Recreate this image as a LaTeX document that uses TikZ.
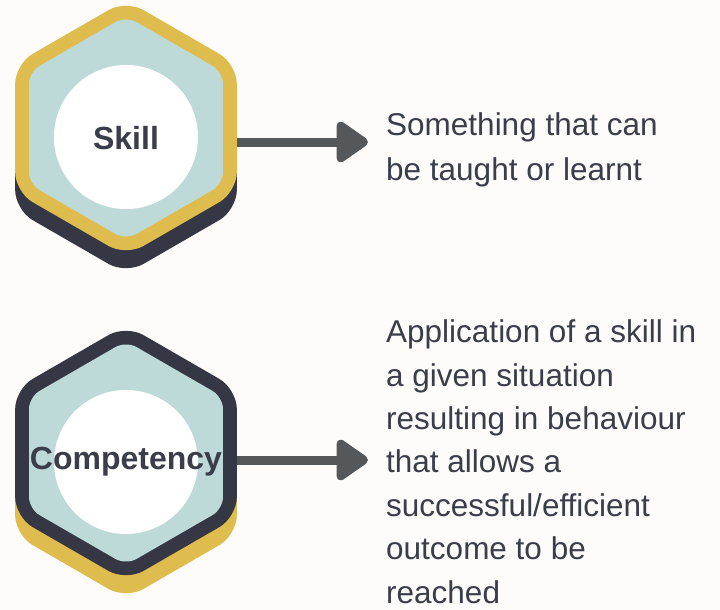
\documentclass[tikz,border=0pt]{standalone}
\usepackage{fontspec}
\setmainfont{Liberation Sans}
\usetikzlibrary{arrows.meta}

\definecolor{bg}{HTML}{FDFCFA}
\definecolor{gold}{HTML}{DFBC4E}
\definecolor{navy}{HTML}{353744}
\definecolor{paleteal}{HTML}{BEDAD8}
\definecolor{arrowgray}{HTML}{54585B}
\definecolor{ink}{HTML}{3A3D4A}

\tikzset{
  pics/hexa/.style={code={
    \path[pic actions] (90:#1) -- (30:#1) -- (-30:#1) -- (-90:#1)
      -- (-150:#1) -- (150:#1) -- cycle;}},
  outerhex/.style={rounded corners=20pt},
  innerhex/.style={fill=paleteal, rounded corners=12pt},
  disc/.style={circle, fill=white, minimum size=144pt, inner sep=0pt},
  hexlabel/.style={text=ink, inner sep=0pt,
    font=\bfseries\fontsize{32}{38}\selectfont},
  desc/.style={text=ink, inner sep=0pt, align=left, anchor=base west},
  connector/.style={draw=arrowgray, line width=9pt,
    -{Triangle[length=35pt, width=46pt, round]}},
}

\begin{document}
\begin{tikzpicture}[x=1pt, y=-1pt]
  \fill[bg] (0,0) rectangle (720,610);
  \useasboundingbox (0,0) rectangle (720,610);

  % Skill hexagon: navy shadow, gold rim, pale teal face
  \pic[fill=navy, outerhex] at (126,146) {hexa=128};
  \pic[fill=gold, outerhex] at (126,128) {hexa=128};
  \pic[innerhex] at (126,128) {hexa=112};
  \node[disc] (skilldisc) at (126,137) {};
  \node[hexlabel] (skill) at (126,138) {Skill};

  % Competency hexagon: gold shadow, navy rim, pale teal face
  \pic[fill=gold, outerhex] at (126,471) {hexa=128};
  \pic[fill=navy, outerhex] at (126,453) {hexa=128};
  \pic[innerhex] at (126,453) {hexa=112};
  \node[disc] (compdisc) at (126,462) {};
  \node[hexlabel] (comp) at (126,462) {Competency};

  % Descriptions (anchored at the baseline of the last line)
  \node[desc, font=\fontsize{31.5}{45}\selectfont] (skilldesc) at (386,180)
    {Something that can\\be taught or learnt};
  \node[desc, font=\fontsize{31.5}{43.4}\selectfont] (compdesc) at (386,603)
    {Application of a skill in\\a given situation\\resulting in behaviour\\that allows a\\successful/efficient\\outcome to be\\reached};

  % Connectors
  \coordinate (skillrim) at (237,142);
  \coordinate (skilltip) at (368,142);
  \coordinate (comprim) at (237,460);
  \coordinate (comptip) at (368,460);
  \draw[connector] (skillrim) -- (skilltip);
  \draw[connector] (comprim) -- (comptip);
\end{tikzpicture}
\end{document}
